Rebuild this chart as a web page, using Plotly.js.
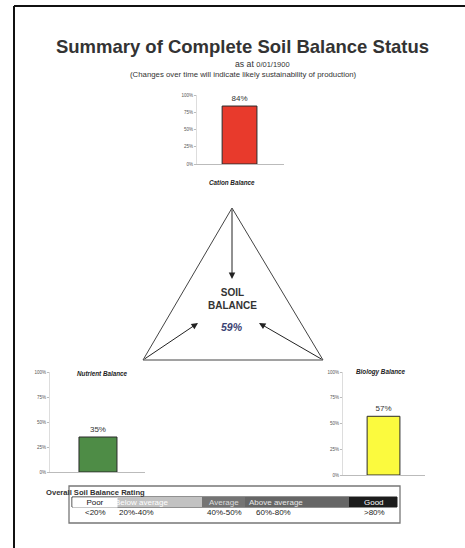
<!DOCTYPE html>
<html>
<head>
<meta charset="utf-8">
<script src="https://cdn.plot.ly/plotly-3.0.1.min.js"></script>
<style>html,body{margin:0;padding:0;background:#fff;}#chart{width:465px;height:548px;}</style>
</head>
<body>
<div id="chart"></div>
<script>
// ---- data ----
const categories = ['Cation Balance', 'Nutrient Balance', 'Biology Balance'];
const values = [0.84, 0.35, 0.57];
const barColors = ['#e83a2c', '#4e8c46', '#fbfa3e'];
const soilBalance = 0.59;
const yTickVals = [0, 0.25, 0.5, 0.75, 1];
const yTickText = ['0%', '25%', '50%', '75%', '100%'];
const ratingNames = ['Poor', 'Below average', 'Average', 'Above average', 'Good'];
const ratingRanges = ['<20%', '20%-40%', '40%-50%', '60%-80%', '>80%'];
const dateText = '0/01/1900';

// ---- layout helpers (pixel -> paper) ----
const W = 465, H = 548;
const px = x => x / W;
const py = y => 1 - y / H;
const FONT = 'Liberation Sans, Arial, sans-serif';

// subplot geometry [x0,x1,yTop(100%),yBottom(0%), barCenterFrac]
const geo = [
  [197, 284, 95, 164, 0.489],
  [50, 145, 372, 472, 0.505],
  [343, 425, 372, 475, 0.494]
];

const traces = [];
const layout = {
  width: W, height: H,
  margin: {l: 0, r: 0, t: 0, b: 0},
  paper_bgcolor: '#fff', plot_bgcolor: 'rgba(0,0,0,0)',
  showlegend: false,
  font: {family: FONT, color: '#333'},
  title: {text: '<b>Summary of Complete Soil Balance Status</b>', x: px(242.5), xanchor: 'center',
          y: py(47), yanchor: 'middle', font: {size: 18.5, color: '#333', family: FONT}},
  shapes: [], annotations: []
};

categories.forEach((c, i) => {
  const g = geo[i];
  const sfx = i === 0 ? '' : String(i + 1);
  const f = g[4];
  traces.push({
    type: 'bar', x: [0], y: [values[i]], width: [0.4],
    xaxis: 'x' + sfx, yaxis: 'y' + sfx,
    marker: {color: barColors[i], line: {color: '#2a2a2a', width: 1}},
    text: [Math.round(values[i] * 100) + '%'], textposition: 'outside',
    textfont: {size: 8, color: '#333', family: FONT}, cliponaxis: false,
    hoverinfo: 'skip'
  });
  layout['xaxis' + sfx] = {
    domain: [px(g[0]), px(g[1])], range: [-f, 1 - f], anchor: 'y' + sfx,
    showticklabels: false, ticks: '', showgrid: false, zeroline: false,
    showline: true, linecolor: '#bbb', linewidth: 1, fixedrange: true
  };
  layout['yaxis' + sfx] = {
    domain: [py(g[3]), py(g[2])], range: [0, 1], anchor: 'x' + sfx,
    tickvals: yTickVals, ticktext: yTickText, ticks: 'outside', ticklen: 2,
    tickcolor: '#bbb', tickfont: {size: 4.5, color: '#555', family: FONT},
    showgrid: false, zeroline: false, showline: true, linecolor: '#ddd', linewidth: 1,
    fixedrange: true
  };
});

// chart titles
const titlePos = [[232, 182], [102, 373], [380, 372]];
categories.forEach((c, i) => {
  layout.annotations.push({xref: 'paper', yref: 'paper', x: px(titlePos[i][0]), y: py(titlePos[i][1]),
    text: '<b><i>' + c + '</i></b>', showarrow: false, xanchor: 'center', yanchor: 'middle',
    font: {size: 6.3, color: '#222', family: FONT}});
});

// subtitles
layout.annotations.push({xref: 'paper', yref: 'paper', x: px(233), y: py(64), showarrow: false, xanchor: 'left',
  text: 'as at <span style="font-size:7.5px">' + dateText + '</span>', font: {size: 8.7, color: '#333', family: FONT},
  yanchor: 'middle'});
layout.annotations.push({xref: 'paper', yref: 'paper', x: px(243.5), y: py(75), showarrow: false,
  text: '(Changes over time will indicate likely sustainability of production)',
  font: {size: 7.8, color: '#333', family: FONT}, yanchor: 'middle'});

// page border
layout.shapes.push({type: 'line', xref: 'paper', yref: 'paper', x0: px(14), x1: px(14), y0: 0, y1: py(6),
  line: {color: '#111', width: 2}});
layout.shapes.push({type: 'line', xref: 'paper', yref: 'paper', x0: px(14), x1: 1, y0: py(6), y1: py(6),
  line: {color: '#111', width: 2}});

// triangle
const A = [232, 208], B = [143, 360], C = [323, 360];
layout.shapes.push({type: 'path', xref: 'paper', yref: 'paper',
  path: `M ${px(A[0])} ${py(A[1])} L ${px(B[0])} ${py(B[1])} L ${px(C[0])} ${py(C[1])} Z`,
  line: {color: '#444', width: 1}});
// arrows
[[232, 279, 0, -71], [198, 323, -55, 37], [259, 323, 64, 37]].forEach(a => {
  layout.annotations.push({xref: 'paper', yref: 'paper', x: px(a[0]), y: py(a[1]), ax: a[2], ay: a[3],
    showarrow: true, arrowhead: 2, arrowsize: 1.3, arrowwidth: 1, arrowcolor: '#222', text: ''});
});
layout.annotations.push({xref: 'paper', yref: 'paper', x: px(232), y: py(298.5), showarrow: false,
  text: '<b>SOIL<br>BALANCE</b>', font: {size: 10, color: '#333', family: FONT}, yanchor: 'middle'});
layout.annotations.push({xref: 'paper', yref: 'paper', x: px(232), y: py(327), showarrow: false,
  text: '<b><i>' + Math.round(soilBalance * 100) + '%</i></b>', font: {size: 10.5, color: '#3b4272', family: FONT},
  yanchor: 'middle'});

// rating box
layout.shapes.push({type: 'rect', xref: 'paper', yref: 'paper', x0: px(69), x1: px(400), y0: py(523), y1: py(486),
  line: {color: '#777', width: 1.3}, fillcolor: 'rgba(0,0,0,0)'});
const seg = [[72, 117, '#ffffff', '#111'], [117, 202, '#c2c2c2', '#fff'], [202, 245, '#747474', '#ddd'],
             [245, 349, '#666666', '#e8e8e8'], [349, 397, '#1c1c1c', '#fff']];
layout.shapes.push({type: 'rect', xref: 'paper', yref: 'paper', x0: px(72), x1: px(397), y0: py(507), y1: py(497),
  line: {color: '#222', width: 1}, fillcolor: '#fff'});
seg.forEach((s, i) => {
  if (i > 0) layout.shapes.push({type: 'rect', xref: 'paper', yref: 'paper', x0: px(s[0]), x1: px(s[1]),
    y0: py(507), y1: py(497), line: {width: 0}, fillcolor: s[2]});
});
const labelX = [[95, 'center'], [113, 'left'], [224, 'center'], [247, 'left'], [374, 'center']];
const rangeX = [95, 136, 224, 273, 374];
ratingNames.forEach((n, i) => {
  if (i === 0) return;
  layout.annotations.push({xref: 'paper', yref: 'paper', x: px(labelX[i][0]), y: py(502.5), showarrow: false,
    xanchor: labelX[i][1], yanchor: 'middle', text: n, font: {size: 8, color: seg[i][3], family: FONT}});
});
// "Poor" drawn last with white background (clips the start of the next label as in the original)
layout.annotations.push({xref: 'paper', yref: 'paper', x: px(94.5), y: py(502), showarrow: false,
  xanchor: 'center', yanchor: 'middle', text: ratingNames[0], width: 44, height: 9, bgcolor: '#fff',
  borderpad: 0, font: {size: 8, color: '#111', family: FONT}});
ratingRanges.forEach((r, i) => {
  layout.annotations.push({xref: 'paper', yref: 'paper', x: px(rangeX[i]), y: py(512), showarrow: false,
    xanchor: 'center', yanchor: 'middle', text: r, font: {size: 8, color: '#222', family: FONT}});
});
layout.annotations.push({xref: 'paper', yref: 'paper', x: px(44), y: py(492), showarrow: false,
  xanchor: 'left', yanchor: 'middle', text: '<b>Overall Soil Balance Rating</b>',
  font: {size: 7.6, color: '#333', family: FONT}});

Plotly.newPlot('chart', traces, layout, {staticPlot: true, displayModeBar: false});
</script>
</body>
</html>
